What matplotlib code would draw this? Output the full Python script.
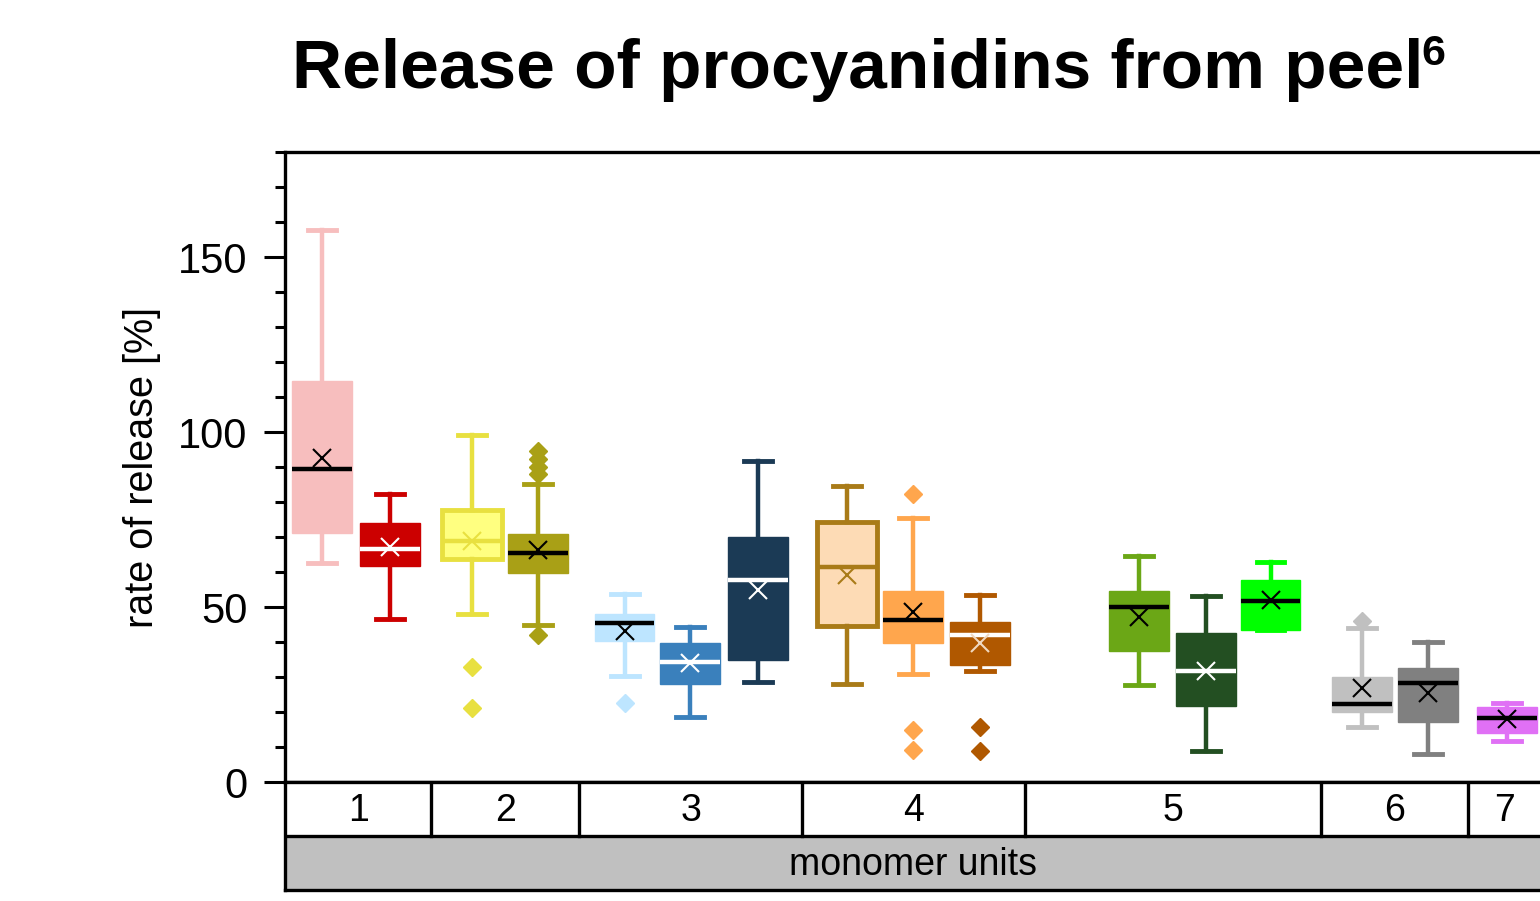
import matplotlib
matplotlib.use("Agg")
import matplotlib.pyplot as plt
from matplotlib.ticker import MultipleLocator

plt.rcParams['font.family'] = ['Liberation Sans', 'DejaVu Sans']

# monomer-unit groups shown in the table under the plot
groups = ["1", "2", "3", "4", "5", "6", "7"]

# box statistics, one entry per box
whislo = [62.6, 46.6, 48.0, 44.9, 30.3, 18.6, 28.6, 28.0, 30.9, 31.7, 27.7, 8.9, 43.4, 15.7, 8.0, 11.7]
q1     = [71.1, 61.7, 63.7, 59.7, 40.3, 28.0, 34.9, 44.6, 39.7, 33.4, 37.4, 21.7, 43.4, 20.0, 17.1, 14.0]
med    = [89.4, 66.6, 68.9, 65.4, 45.4, 34.3, 57.7, 61.4, 46.3, 42.0, 50.0, 31.7, 51.7, 22.3, 28.3, 18.3]
q3     = [114.6, 74.0, 77.7, 70.9, 48.0, 39.7, 70.0, 74.3, 54.6, 45.7, 54.6, 42.6, 57.7, 30.0, 32.6, 21.4]
whishi = [157.7, 82.3, 99.1, 85.2, 53.7, 44.3, 91.7, 84.6, 75.4, 53.4, 64.6, 53.1, 62.9, 44.0, 40.0, 22.6]
means  = [92.6, 67.1, 68.9, 66.3, 43.1, 34.0, 54.9, 59.1, 48.6, 39.7, 47.1, 31.7, 52.0, 26.9, 25.4, 18.0]
fliers = [[], [], [33.0, 21.1], [94.6, 92.3, 90.0, 88.0, 42.0], [22.6], [], [], [],
          [82.3, 14.9, 9.1], [15.7, 8.9], [], [], [], [46.0], [], []]

# layout: box positions and group borders in axis units
positions = [0.56, 1.58, 2.81, 3.80, 5.10, 6.09, 7.10, 8.44, 9.43, 10.44,
             12.83, 13.83, 14.80, 16.17, 17.17, 18.35]
edges = [0, 2.20, 4.42, 7.77, 11.11, 15.56, 17.77, 18.87]

faces  = ['#F7BEBE', '#CC0000', '#FFFF80', '#A9A016', '#BDE5FF', '#3A80BC', '#1B3A55', '#FDDBB5',
          '#FFA64D', '#B05800', '#6BA716', '#234F22', '#00FF00', '#C0C0C0', '#808080', '#E070F5']
edgecs = ['#F7BEBE', '#CC0000', '#E8E040', '#A9A016', '#BDE5FF', '#3A80BC', '#1B3A55', '#A97B18',
          '#FFA64D', '#B05800', '#6BA716', '#234F22', '#00FF00', '#C0C0C0', '#808080', '#E070F5']
medcs  = ['k', 'w', '#E8E040', 'k', 'k', 'w', 'w', '#A97B18',
          'k', 'w', 'k', 'w', 'k', 'k', 'k', 'k']
meancs = ['k', 'w', '#E8E040', 'k', 'k', 'w', 'w', '#A97B18',
          'k', '#F0D8C0', 'k', 'w', 'k', 'k', 'k', 'k']

fig = plt.figure(figsize=(15.4, 9.01), dpi=100)
ax = fig.add_axes([0.185, 0.132, 0.816, 0.699])

for i in range(len(positions)):
    st = dict(whislo=whislo[i], q1=q1[i], med=med[i], q3=q3[i], whishi=whishi[i],
              mean=means[i], fliers=fliers[i])
    thick = edgecs[i] != faces[i]
    ax.bxp([st], positions=[positions[i]], widths=0.9, capwidths=0.42,
           patch_artist=True, showmeans=True,
           boxprops=dict(facecolor=faces[i], edgecolor=edgecs[i], linewidth=3.5 if thick else 1),
           medianprops=dict(color=medcs[i], linewidth=3.2, solid_capstyle='butt'),
           whiskerprops=dict(color=edgecs[i], linewidth=3.2),
           capprops=dict(color=edgecs[i], linewidth=3.5),
           meanprops=dict(marker='x', markeredgecolor=meancs[i], markersize=13, markeredgewidth=1.5),
           flierprops=dict(marker='D', markerfacecolor=edgecs[i], markeredgecolor=edgecs[i],
                           markersize=9))

ax.set_xlim(edges[0], edges[-1])
ax.set_ylim(0, 180)
ax.set_xticks([])
ax.yaxis.set_major_locator(MultipleLocator(50))
ax.yaxis.set_minor_locator(MultipleLocator(10))
ax.tick_params(axis='y', which='major', length=15, width=2.2, labelsize=30, pad=12)
ax.tick_params(axis='y', which='minor', length=7, width=2.2)
for s in ax.spines.values():
    s.set_linewidth(2.4)
ax.set_ylabel("rate of release [%]", fontsize=28.5, labelpad=12)

# table with monomer units below the plot
tax = fig.add_axes([0.185, 0.0122, 0.816, 0.1199])
tax.set_xlim(edges[0], edges[-1])
tax.set_ylim(0, 2)
tax.set_xticks([])
tax.set_yticks([])
for s in tax.spines.values():
    s.set_linewidth(2.4)
tax.axhspan(0, 1, color='#C0C0C0', zorder=0)
tax.axhline(1, color='k', linewidth=2.4)
for e in edges[1:-1]:
    tax.plot([e, e], [1, 2], color='k', linewidth=2.4)
for j, g in enumerate(groups):
    tax.text((edges[j] + edges[j + 1]) / 2, 1.46, g, ha='center', va='center', fontsize=27)
tax.text((edges[0] + edges[-1]) / 2, 0.46, "monomer units", ha='center', va='center', fontsize=27)

fig.text(292 / 1540, 0.922, "Release of procyanidins from peel", ha='left', va='center',
         fontsize=50, fontweight='bold')
fig.text(1421 / 1540, 0.94, "6", ha='left', va='center', fontsize=31, fontweight='bold')

fig.savefig("out.png", dpi=100)
